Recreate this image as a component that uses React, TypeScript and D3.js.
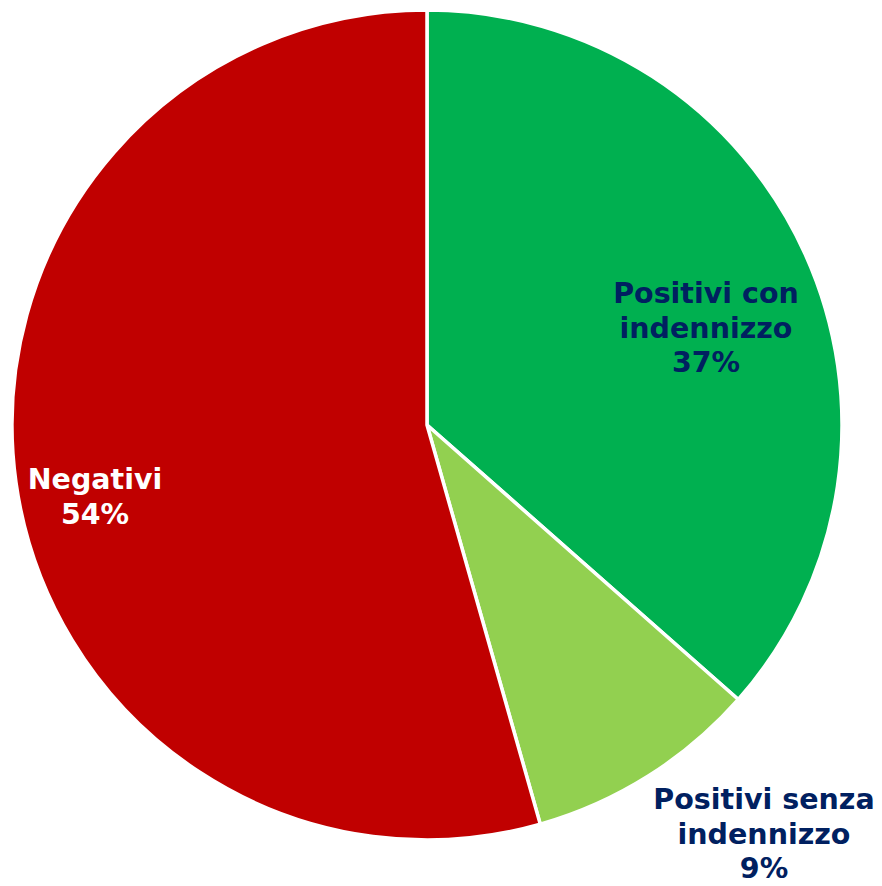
import React from "react";
import * as d3 from "d3";

const categories = ["Positivi con indennizzo", "Positivi senza indennizzo", "Negativi"];
const labelLines = [["Positivi con", "indennizzo"], ["Positivi senza", "indennizzo"], ["Negativi"]];
const values = [36.5, 9.1, 54.4];
const percentLabels = ["37%", "9%", "54%"];
const colors = ["#00B050", "#92D050", "#C00000"];
const textColors = ["#002060", "#002060", "#FFFFFF"];
const labelPos: [number, number][] = [[706, 295], [764, 801], [95, 481]];

export default function App() {
  const W = 882, H = 886;
  const cx = 427, cy = 425, r = 415;
  const pie = d3.pie<number>().sort(null).value((d) => d);
  const arcs = pie(values);
  const arc = d3.arc<d3.PieArcDatum<number>>().innerRadius(0).outerRadius(r);
  const lh = 34.5;
  return (
    <svg width={W} height={H} style={{ position: "absolute", left: 0, top: 0, background: "#fff" }}>
      <g transform={`translate(${cx},${cy})`}>
        {arcs.map((a, i) => (
          <path key={categories[i]} d={arc(a) || ""} fill={colors[i]} stroke="#fff" strokeWidth={3.5} strokeLinejoin="round" />
        ))}
      </g>
      {labelLines.map((lines, i) => {
        const all = [...lines, percentLabels[i]];
        return (
          <text key={i} fontFamily="DejaVu Sans, Verdana, sans-serif" fontWeight="bold" fontSize={28.5} fill={textColors[i]} textAnchor="middle">
            {all.map((t, j) => (
              <tspan key={j} x={labelPos[i][0]} y={labelPos[i][1] + j * lh} dominantBaseline="middle">{t}</tspan>
            ))}
          </text>
        );
      })}
    </svg>
  );
}
